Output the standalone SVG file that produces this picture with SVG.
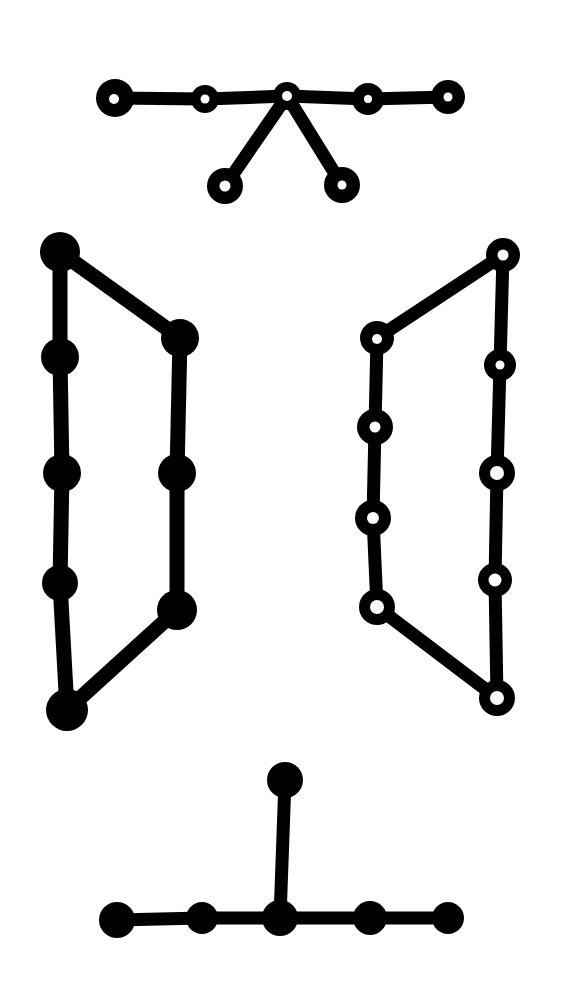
<svg xmlns="http://www.w3.org/2000/svg" width="587" height="982" viewBox="0 0 587 982">
<style>
.e{stroke:#000;stroke-width:13;fill:none;stroke-linecap:round;stroke-linejoin:round}
.n{fill:#000}
.h{fill:#fff}
</style>
<rect width="587" height="982" fill="#fff"/>
<g id="connectors">
<polyline class="e" points="115,98 205,99 287,96 368,99 448,97"/>
<line class="e" x1="287" y1="96" x2="225" y2="186"/>
<line class="e" x1="287" y1="96" x2="342" y2="185"/>
<polyline class="e" points="60,252 60,357 62,473 60,583 67,710" style="stroke-width:15"/>
<polyline class="e" points="60,252 180,338 177,473 177,610 67,710" style="stroke-width:15"/>
<polyline class="e" points="503,255 377,338 375,427 373,518 377,607 497,698"/>
<polyline class="e" points="503,255 500,365 497,473 495,580 497,698"/>
<line class="e" x1="285" y1="780" x2="280" y2="918"/>
<polyline class="e" points="117,920 202,918 280,918 370,918 448,918"/>
</g>
<g id="top-tree">
<g id="t1"><circle class="n" cx="115" cy="98" r="19"/><circle class="h" cx="114" cy="99" r="5"/></g>
<g id="t2"><circle class="n" cx="205" cy="99" r="14"/><circle class="h" cx="205" cy="99" r="4.5"/></g>
<g id="t3"><circle class="n" cx="287" cy="96" r="14"/><circle class="h" cx="287" cy="96" r="5"/></g>
<g id="t4"><circle class="n" cx="368" cy="99" r="16"/><circle class="h" cx="368" cy="99" r="4"/></g>
<g id="t5"><circle class="n" cx="448" cy="97" r="17"/><circle class="h" cx="448" cy="97" r="4.5"/></g>
<g id="t6"><circle class="n" cx="225" cy="186" r="18"/><circle class="h" cx="225" cy="186" r="5.5"/></g>
<g id="t7"><circle class="n" cx="342" cy="185" r="18"/><circle class="h" cx="342" cy="185" r="4.5"/></g>
</g>
<g id="left-cycle">
<g id="l1"><circle class="n" cx="60" cy="252" r="20"/></g>
<g id="l2"><circle class="n" cx="60" cy="357" r="19"/></g>
<g id="l3"><circle class="n" cx="62" cy="473" r="19"/></g>
<g id="l4"><circle class="n" cx="60" cy="583" r="18"/></g>
<g id="l5"><circle class="n" cx="67" cy="710" r="21"/></g>
<g id="l6"><circle class="n" cx="180" cy="338" r="19"/></g>
<g id="l7"><circle class="n" cx="177" cy="473" r="19"/></g>
<g id="l8"><circle class="n" cx="177" cy="610" r="20"/></g>
</g>
<g id="right-cycle">
<g id="r1"><circle class="n" cx="503" cy="255" r="17"/><circle class="h" cx="503" cy="255" r="5.5"/></g>
<g id="r2"><circle class="n" cx="377" cy="338" r="17"/><circle class="h" cx="377" cy="339" r="5"/></g>
<g id="r3"><circle class="n" cx="375" cy="427" r="18"/><circle class="h" cx="375" cy="427" r="5.5"/></g>
<g id="r4"><circle class="n" cx="373" cy="518" r="18"/><circle class="h" cx="373" cy="518" r="6"/></g>
<g id="r5"><circle class="n" cx="377" cy="607" r="18"/><circle class="h" cx="377" cy="607" r="7"/></g>
<g id="r6"><circle class="n" cx="497" cy="698" r="18"/><circle class="h" cx="497" cy="698" r="7"/></g>
<g id="r7"><circle class="n" cx="500" cy="365" r="16"/><circle class="h" cx="500" cy="365" r="4.5"/></g>
<g id="r8"><circle class="n" cx="497" cy="473" r="18"/><circle class="h" cx="497" cy="473" r="7"/></g>
<g id="r9"><circle class="n" cx="495" cy="580" r="17"/><circle class="h" cx="495" cy="580" r="6.5"/></g>
</g>
<g id="bottom-tree">
<g id="b1"><circle class="n" cx="285" cy="780" r="18"/></g>
<g id="b2"><circle class="n" cx="280" cy="918" r="18"/></g>
<g id="b3"><circle class="n" cx="117" cy="920" r="18"/></g>
<g id="b4"><circle class="n" cx="202" cy="918" r="16"/></g>
<g id="b5"><circle class="n" cx="370" cy="918" r="17"/></g>
<g id="b6"><circle class="n" cx="448" cy="918" r="16"/></g>
</g>
</svg>
